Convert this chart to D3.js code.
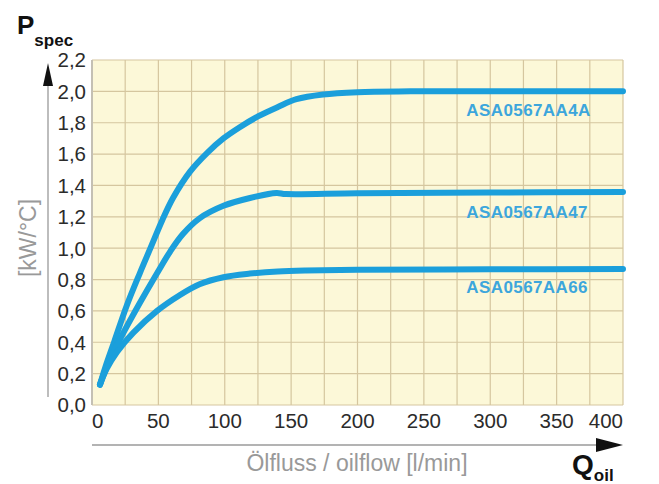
<!DOCTYPE html>
<html><head><meta charset="utf-8">
<script src="https://cdn.jsdelivr.net/npm/d3@7"></script>
<style>html,body{margin:0;padding:0;background:#fff;}svg{display:block;font-family:"Liberation Sans",Arial,sans-serif;}</style>
</head><body>
<script>
// data
const xTicks = [0,50,100,150,200,250,300,350,400];
const yTicks = [0,0.2,0.4,0.6,0.8,1.0,1.2,1.4,1.6,1.8,2.0,2.2];
const seriesNames = ["ASA0567AA4A","ASA0567AA47","ASA0567AA66"];
const flowAA4A = [6,10,17,26,36,44,53,61,74,87,99,111,125,140,154,174,200,240,400];
const powAA4A  = [0.13,0.24,0.41,0.63,0.84,1.00,1.18,1.32,1.49,1.61,1.70,1.77,1.84,1.90,1.95,1.98,1.995,2.0,2.0];
const flowAA47 = [6,13.5,23,36,49,59,68.5,81,99,119,139,146,200,300,400];
const powAA47  = [0.13,0.29,0.45,0.65,0.84,0.98,1.09,1.19,1.27,1.32,1.352,1.345,1.35,1.355,1.358];
const flowAA66 = [6,11,19,31,49,66,81,99,119,140,161,200,300,400];
const powAA66  = [0.13,0.23,0.34,0.46,0.60,0.70,0.77,0.815,0.838,0.852,0.858,0.862,0.865,0.867];

const W=659,H=484;
const svg=d3.select("body").append("svg").attr("width",W).attr("height",H);
const x=d3.scaleLinear().domain([0,400]).range([92,623]);
const y=d3.scaleLinear().domain([0,2.2]).range([405,60]);

// plot background
svg.append("rect").attr("x",x(0)).attr("y",y(2.2)).attr("width",x(400)-x(0)).attr("height",y(0)-y(2.2)).attr("fill","#fcf8d8");
// grid
const gridX=d3.range(0,401,25), gridY=d3.range(0,11.5,1).map(d=>d*0.2);
svg.append("g").selectAll("line").data(gridX).join("line")
  .attr("x1",d=>x(d)).attr("x2",d=>x(d)).attr("y1",y(0)).attr("y2",y(2.2))
  .attr("stroke","#d5c69f").attr("stroke-width",1.2);
svg.append("g").selectAll("line").data(gridY).join("line")
  .attr("x1",x(0)).attr("x2",x(400)).attr("y1",d=>y(d)).attr("y2",d=>y(d))
  .attr("stroke","#d5c69f").attr("stroke-width",1.2);
svg.append("line").attr("x1",x(0)).attr("x2",x(0)).attr("y1",y(0)).attr("y2",y(2.2)).attr("stroke","#c4c0b4").attr("stroke-width",2);

// curves
const series=[[flowAA4A,powAA4A],[flowAA47,powAA47],[flowAA66,powAA66]];
const line=d3.line().x(d=>x(d[0])).y(d=>y(d[1])).curve(d3.curveCatmullRom.alpha(0.5));
series.forEach(([fx,py])=>{
  svg.append("path").datum(fx.map((v,i)=>[v,py[i]])).attr("d",line)
    .attr("fill","none").attr("stroke","#1b9fdb").attr("stroke-width",6).attr("stroke-linecap","round").attr("stroke-linejoin","round");
});
// series labels
const labelY=[1.88,1.23,0.75];
svg.append("g").selectAll("text").data(seriesNames).join("text")
  .attr("x",x(282)).attr("y",(d,i)=>y(labelY[i])).attr("dy","0.35em")
  .attr("font-size",17).attr("letter-spacing",0.4).attr("font-weight","bold").attr("fill","#3ca6dc").text(d=>d);

// y tick labels
const fmt=d=>d3.format(".1f")(d).replace(".",",");
svg.append("g").selectAll("text").data(yTicks).join("text")
  .attr("x",86).attr("y",d=>y(d)).attr("dy","0.36em").attr("text-anchor","end")
  .attr("font-size",20.5).attr("fill","#2b2b2b").text(fmt);
// x tick labels
svg.append("g").selectAll("text").data(xTicks).join("text")
  .attr("x",d=>x(d)).attr("y",421).attr("dy","0.36em")
  .attr("text-anchor",(d,i)=>i===0?"start":(i===xTicks.length-1?"end":"middle"))
  .attr("font-size",20.5).attr("fill","#2b2b2b").text(d=>d);

// y axis arrow line
svg.append("line").attr("x1",48).attr("x2",48).attr("y1",84).attr("y2",397).attr("stroke","#9a9a9a").attr("stroke-width",1.3);
svg.append("path").attr("d","M48,63 L43,86 L53,86 Z").attr("fill","#111");
// x axis arrow line
svg.append("line").attr("x1",92).attr("x2",600).attr("y1",445).attr("y2",445).attr("stroke","#9a9a9a").attr("stroke-width",1.3);
svg.append("path").attr("d","M623,445 L596,438 L596,452 Z").attr("fill","#111");

// titles
svg.append("text").attr("transform","translate(36,238) rotate(-90)").attr("text-anchor","middle")
  .attr("font-size",23).attr("fill","#999").text("[kW/°C]");
svg.append("text").attr("x",357).attr("y",471).attr("text-anchor","middle")
  .attr("font-size",23).attr("fill","#999").text("Ölfluss / oilflow [l/min]");
const p=svg.append("text").attr("x",17).attr("y",34).attr("font-weight","bold").attr("fill","#111");
p.append("tspan").attr("font-size",26).text("P");
p.append("tspan").attr("font-size",17).attr("dy",12).text("spec");
const q=svg.append("text").attr("x",572).attr("y",474).attr("font-weight","bold").attr("fill","#111");
q.append("tspan").attr("font-size",28).text("Q");
q.append("tspan").attr("font-size",17).attr("dy",7).text("oil");
</script>
</body></html>
